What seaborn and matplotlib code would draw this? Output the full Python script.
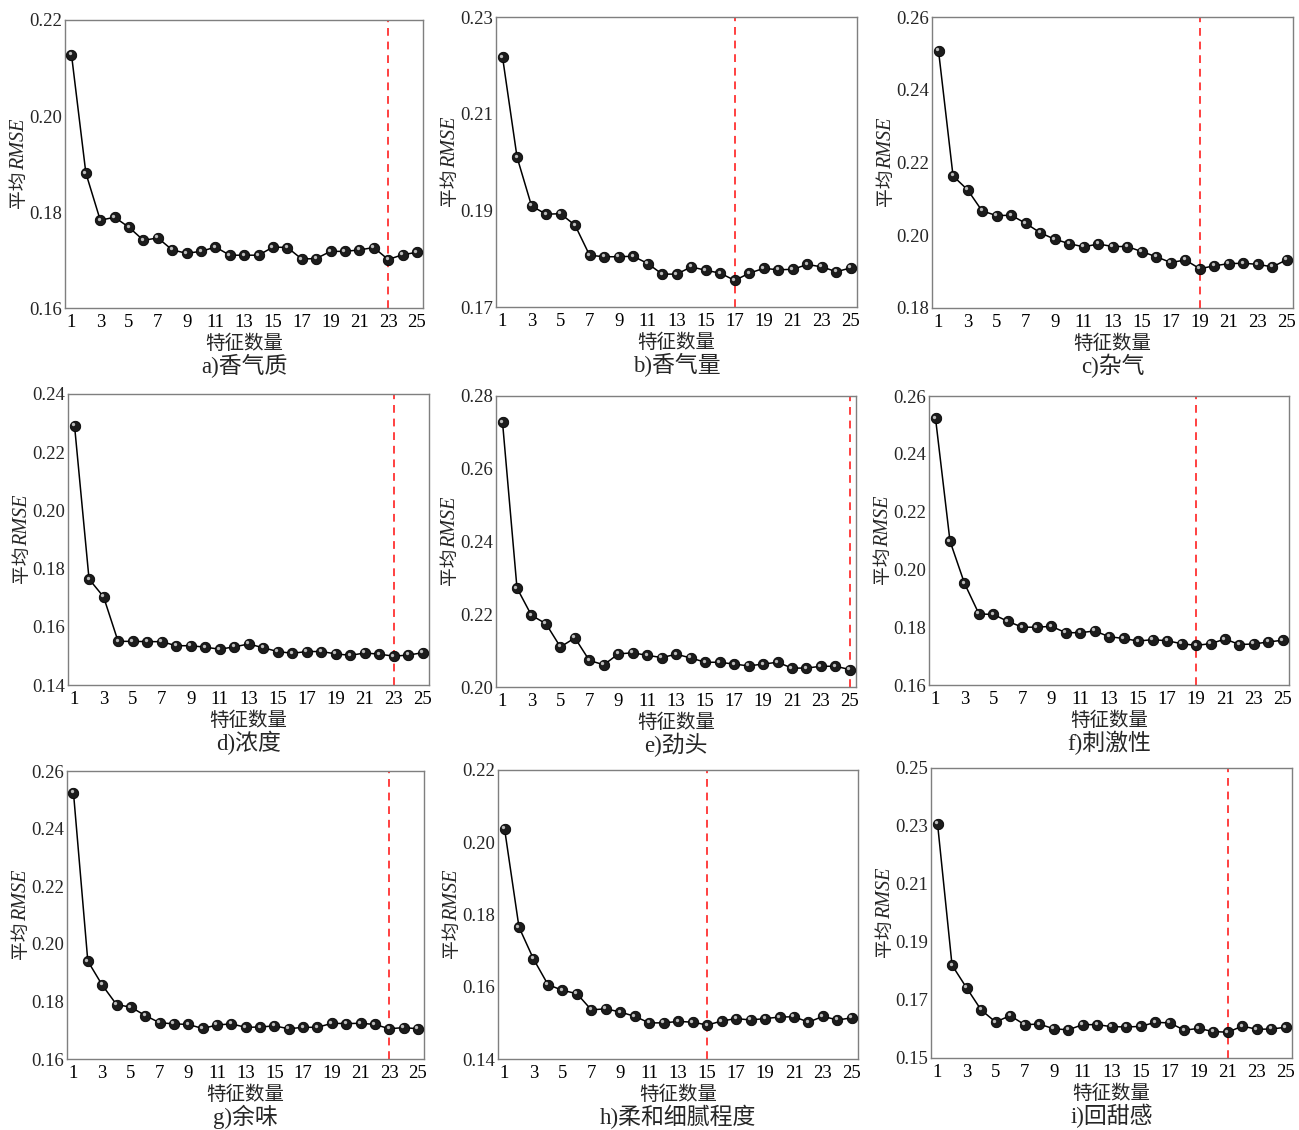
import numpy as np
import pandas as pd
import seaborn as sns
import matplotlib.pyplot as plt
from matplotlib import transforms

# feature counts on the x axis
n_features = list(range(1, 26))

# mean RMSE per feature count
rmse_a = [0.2128, 0.1881, 0.1783, 0.1789, 0.1768, 0.1741, 0.1746, 0.1721, 0.1714, 0.1718,
          0.1727, 0.1710, 0.1710, 0.1710, 0.1727, 0.1726, 0.1702, 0.1703, 0.1718, 0.1718,
          0.1721, 0.1726, 0.1701, 0.1711, 0.1716]
rmse_b = [0.2217, 0.2010, 0.1909, 0.1892, 0.1893, 0.1869, 0.1807, 0.1804, 0.1804, 0.1805,
          0.1790, 0.1768, 0.1768, 0.1783, 0.1776, 0.1770, 0.1755, 0.1770, 0.1780, 0.1777,
          0.1778, 0.1788, 0.1783, 0.1773, 0.1781]
rmse_c = [0.2507, 0.2163, 0.2125, 0.2067, 0.2054, 0.2055, 0.2033, 0.2007, 0.1989, 0.1977,
          0.1968, 0.1976, 0.1969, 0.1969, 0.1955, 0.1941, 0.1925, 0.1932, 0.1908, 0.1916,
          0.1922, 0.1923, 0.1920, 0.1913, 0.1933]
rmse_d = [0.2291, 0.1764, 0.1703, 0.1550, 0.1550, 0.1549, 0.1549, 0.1535, 0.1535, 0.1530,
          0.1523, 0.1531, 0.1541, 0.1528, 0.1515, 0.1509, 0.1515, 0.1515, 0.1507, 0.1502,
          0.1510, 0.1506, 0.1499, 0.1503, 0.1511]
rmse_e = [0.2728, 0.2272, 0.2197, 0.2174, 0.2110, 0.2135, 0.2073, 0.2061, 0.2091, 0.2094,
          0.2087, 0.2081, 0.2090, 0.2080, 0.2068, 0.2068, 0.2063, 0.2058, 0.2063, 0.2068,
          0.2052, 0.2052, 0.2057, 0.2057, 0.2048]
rmse_f = [0.2523, 0.2098, 0.1952, 0.1846, 0.1844, 0.1820, 0.1800, 0.1800, 0.1803, 0.1781,
          0.1781, 0.1787, 0.1767, 0.1761, 0.1752, 0.1757, 0.1753, 0.1743, 0.1737, 0.1743,
          0.1759, 0.1740, 0.1742, 0.1749, 0.1755]
rmse_g = [0.2525, 0.1940, 0.1857, 0.1789, 0.1780, 0.1751, 0.1726, 0.1722, 0.1720, 0.1706,
          0.1718, 0.1722, 0.1710, 0.1711, 0.1715, 0.1705, 0.1710, 0.1710, 0.1724, 0.1723,
          0.1724, 0.1720, 0.1705, 0.1709, 0.1705]
rmse_h = [0.2038, 0.1765, 0.1677, 0.1606, 0.1590, 0.1581, 0.1536, 0.1539, 0.1530, 0.1518,
          0.1500, 0.1500, 0.1504, 0.1502, 0.1494, 0.1505, 0.1512, 0.1508, 0.1512, 0.1516,
          0.1517, 0.1502, 0.1518, 0.1508, 0.1514]
rmse_i = [0.2308, 0.1820, 0.1742, 0.1666, 0.1624, 0.1646, 0.1615, 0.1617, 0.1601, 0.1597,
          0.1615, 0.1615, 0.1608, 0.1607, 0.1609, 0.1623, 0.1621, 0.1596, 0.1602, 0.1591,
          0.1589, 0.1610, 0.1599, 0.1600, 0.1606]

captions = ["a)香气质", "b)香气量", "c)杂气", "d)浓度", "e)劲头", "f)刺激性",
            "g)余味", "h)柔和细腻程度", "i)回甜感"]
best_n = [23, 17, 19, 23, 25, 19, 23, 15, 21]
y_lims = [(0.16, 0.22), (0.17, 0.23), (0.18, 0.26), (0.14, 0.24), (0.20, 0.28),
          (0.16, 0.26), (0.16, 0.26), (0.14, 0.22), (0.15, 0.25)]
y_steps = [0.02, 0.02, 0.02, 0.02, 0.02, 0.02, 0.02, 0.02, 0.02]
all_rmse = [rmse_a, rmse_b, rmse_c, rmse_d, rmse_e, rmse_f, rmse_g, rmse_h, rmse_i]

sns.set_theme(style="white")
plt.rcParams['font.family'] = ['Liberation Serif', 'Noto Sans CJK SC']

W, H = 1299, 1130
fig = plt.figure(figsize=(W / 100, H / 100), dpi=100)

# axes boxes in pixels: left, top, right, bottom
boxes = [(65, 20, 423, 308), (496, 17, 857, 307), (932, 17, 1293, 308),
         (68, 394, 429, 685), (496, 396, 856, 687), (929, 396, 1289, 685),
         (67, 771, 424, 1059), (498, 770, 858, 1059), (931, 768, 1292, 1058)]

for k in range(9):
    l, t, r, b = boxes[k]
    ax = fig.add_axes([l / W, 1 - b / H, (r - l) / W, (b - t) / H])
    df = pd.DataFrame({"n": n_features, "rmse": all_rmse[k]})

    sns.lineplot(data=df, x="n", y="rmse", ax=ax, color="black", linewidth=1.1,
                 marker="o", markersize=7.5, markerfacecolor="#1c1c1c",
                 markeredgecolor="black", markeredgewidth=0.6, zorder=3)
    # small highlight on each ball
    hl = transforms.offset_copy(ax.transData, fig=fig, x=-1.1, y=1.1, units="points")
    ax.plot(df["n"], df["rmse"], linestyle="none", marker="o", markersize=2.4,
            color="#bdbdbd", markeredgewidth=0, transform=hl, zorder=4)

    ax.axvline(best_n[k], color="#ff4040", linestyle=(0, (4, 3)), linewidth=1.4, zorder=2)

    lo, hi = y_lims[k]
    ax.set_ylim(lo, hi)
    ax.set_xlim(0.55, 25.42)
    ax.set_xticks(range(1, 26, 2))
    ax.set_yticks(np.round(np.arange(lo, hi + 1e-9, y_steps[k]), 2))
    ax.yaxis.set_major_formatter(plt.FormatStrFormatter("%.2f"))

    for s in ax.spines.values():
        s.set_color("#7f7f7f")
        s.set_linewidth(1.0)
    ax.tick_params(axis="x", direction="in", length=4, width=0.9, color="#7f7f7f",
                   labelsize=13.5, pad=4, labelcolor="black")
    ax.tick_params(axis="y", length=0, labelsize=13.5, pad=2)

    ax.set_xlabel("特征数量", fontsize=14, labelpad=3)
    ax.set_ylabel("")
    # y label: "平均" upright + "RMSE" italic, stacked along the rotated direction
    ylab = transforms.offset_copy(ax.transAxes, fig=fig, x=-32.5, y=-4.5, units="points")
    ax.text(0, 0.5, "平均", transform=ylab, rotation=90, ha="center", va="top",
            fontsize=13.5)
    ax.text(0, 0.5, "RMSE", transform=ylab, rotation=90, ha="center", va="bottom",
            fontsize=14.5, style="italic")
    ax.annotate(captions[k], xy=(0.5, 0), xycoords="axes fraction",
                xytext=(0, -42), textcoords="offset points",
                ha="center", va="center", fontsize=16.5)

plt.savefig("out.png", dpi=100)
